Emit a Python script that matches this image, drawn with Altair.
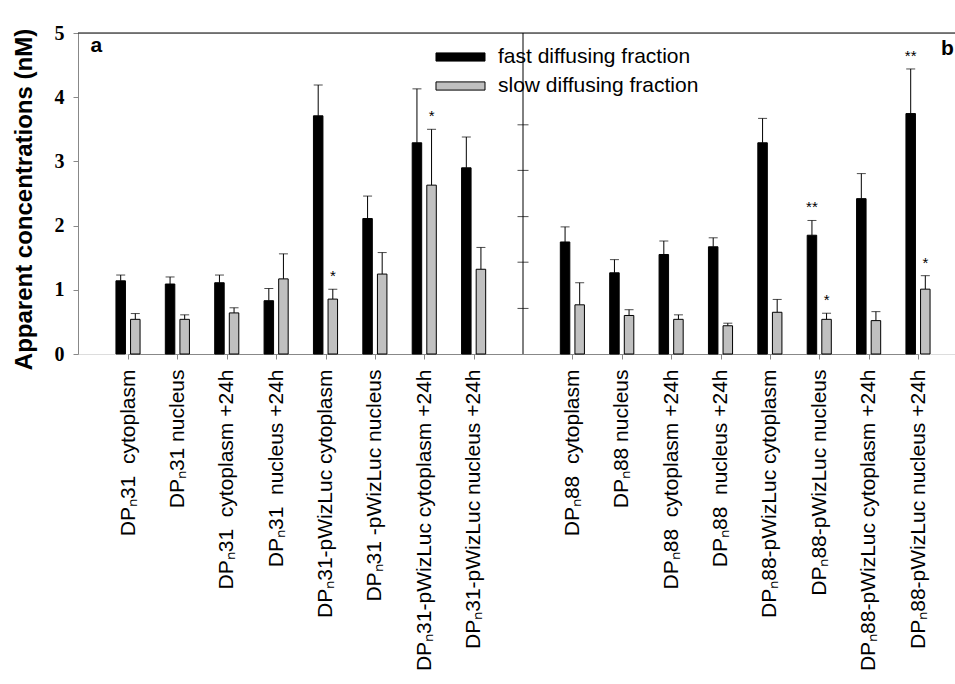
import altair as alt
import pandas as pd

NB = "\u00a0"
labels_a = [f"DPₙ31{NB} cytoplasm", "DPₙ31 nucleus", f"DPₙ31{NB} cytoplasm +24h", f"DPₙ31{NB} nucleus +24h",
            "DPₙ31-pWizLuc cytoplasm", "DPₙ31 -pWizLuc nucleus", "DPₙ31-pWizLuc cytoplasm +24h", "DPₙ31-pWizLuc nucleus +24h"]
labels_b = [f"DPₙ88{NB} cytoplasm", "DPₙ88 nucleus", f"DPₙ88{NB} cytoplasm +24h", f"DPₙ88{NB} nucleus +24h",
            "DPₙ88-pWizLuc cytoplasm", "DPₙ88-pWizLuc nucleus", "DPₙ88-pWizLuc cytoplasm +24h", "DPₙ88-pWizLuc nucleus +24h"]
gap = " "
series_names = ["fast diffusing fraction", "slow diffusing fraction"]

fast_a = [1.14, 1.09, 1.11, 0.83, 3.71, 2.11, 3.29, 2.90]
fast_a_err = [1.23, 1.20, 1.23, 1.02, 4.19, 2.46, 4.13, 3.38]
slow_a = [0.54, 0.54, 0.64, 1.17, 0.855, 1.245, 2.63, 1.32]
slow_a_err = [0.63, 0.61, 0.72, 1.56, 1.01, 1.58, 3.50, 1.66]
fast_b = [1.745, 1.265, 1.55, 1.67, 3.29, 1.85, 2.42, 3.745]
fast_b_err = [1.98, 1.47, 1.76, 1.81, 3.67, 2.08, 2.81, 4.44]
slow_b = [0.766, 0.60, 0.54, 0.44, 0.65, 0.54, 0.52, 1.01]
slow_b_err = [1.11, 0.69, 0.61, 0.48, 0.85, 0.635, 0.66, 1.22]
fast_a_sig = ["", "", "", "", "", "", "", ""]
slow_a_sig = ["", "", "", "", "*", "", "*", ""]
fast_b_sig = ["", "", "", "", "", "**", "", "**"]
slow_b_sig = ["", "", "", "", "", "*", "", "*"]
y_ticks = [0, 1, 2, 3, 4, 5]
panel_b_ticks = [0.71, 1.43, 2.14, 2.86, 3.57]
panel_names = ["a", "b"]

rows = []
for labs, f, fe, s, se, fs, ss in [
    (labels_a, fast_a, fast_a_err, slow_a, slow_a_err, fast_a_sig, slow_a_sig),
    (labels_b, fast_b, fast_b_err, slow_b, slow_b_err, fast_b_sig, slow_b_sig),
]:
    for i, lab in enumerate(labs):
        rows.append(dict(label=lab, series=series_names[0], value=f[i], err=fe[i], sig=fs[i]))
        rows.append(dict(label=lab, series=series_names[1], value=s[i], err=se[i], sig=ss[i]))
df = pd.DataFrame(rows)

x_domain = labels_a + [gap] + labels_b
xscale = alt.Scale(type="point", domain=x_domain, range=[50, 840], padding=0)
yscale = alt.Scale(domain=[0, 5], nice=False, zero=True)

x_enc = alt.X("label:N", scale=xscale, sort=x_domain,
              axis=alt.Axis(values=labels_a + labels_b, labelAngle=270, labelAlign="right",
                            labelBaseline="middle", labelLimit=0, labelOverlap=False,
                            labelFont="Liberation Sans", labelFontSize=21, labelPadding=10,
                            tickSize=5, title=None, grid=False))
y_enc = alt.Y("value:Q", scale=yscale,
              axis=alt.Axis(values=y_ticks, format="d", labelFont="Liberation Serif", labelFontWeight="bold",
                            labelFontSize=20, labelPadding=9, tickSize=5, grid=False,
                            title="Apparent concentrations (nM)", titleFont="Liberation Sans",
                            titleFontWeight="bold", titleFontSize=24, titleAngle=270,
                            titleX=-54, titleY=166, titleAlign="center", titleBaseline="middle"))

color = alt.Color("series:N", scale=alt.Scale(domain=series_names, range=["#000000", "#c0c0c0"]),
                  legend=alt.Legend(title=None, orient="none", legendX=372, legendY=13.5, padding=0,
                                    symbolType="M-3,-0.5H3V0.5H-3Z", symbolSize=267,
                                    symbolStrokeColor="black", symbolStrokeWidth=1, symbolOpacity=1,
                                    labelFont="Liberation Sans", labelFontSize=21, labelColor="black",
                                    labelLimit=0, labelOffset=27, rowPadding=7))

base = alt.Chart(df)
layers = []
for name, off in zip(series_names, [-7.3, 7.3]):
    sub = base.transform_filter(alt.datum.series == name)
    layers.append(sub.mark_rule(xOffset=off, color="black", strokeWidth=1).encode(
        x=x_enc, y=alt.Y("value:Q", scale=yscale), y2="err:Q"))
    layers.append(sub.mark_tick(xOffset=off, color="black", size=9, thickness=1, orient="horizontal").encode(
        x=x_enc, y=alt.Y("err:Q", scale=yscale)))
    layers.append(sub.mark_bar(width=9.5, xOffset=off, stroke="black", strokeWidth=1, opacity=1).encode(
        x=x_enc, y=y_enc, color=color))
    layers.append(sub.transform_filter(alt.datum.sig != "").mark_text(
        xOffset=off, dy=-8, baseline="alphabetic", align="center", fontSize=15,
        font="Liberation Sans", color="black").encode(
        x=x_enc, y=alt.Y("err:Q", scale=yscale), text="sig:N"))

divider = alt.Chart(pd.DataFrame({"label": [gap]})).mark_rule(color="black", strokeWidth=1).encode(
    x=alt.X("label:N", scale=xscale))
div_ticks = alt.Chart(pd.DataFrame({"label": [gap] * len(panel_b_ticks), "v": panel_b_ticks})).mark_tick(
    color="black", size=11, thickness=1, orient="horizontal").encode(
    x=alt.X("label:N", scale=xscale), y=alt.Y("v:Q", scale=yscale))
top = alt.Chart(pd.DataFrame({"v": [max(y_ticks)]})).mark_rule(color="black", strokeWidth=1).encode(
    y=alt.Y("v:Q", scale=yscale))
lab_a = alt.Chart(pd.DataFrame({"t": [panel_names[0]]})).mark_text(
    align="left", baseline="alphabetic", fontSize=21, fontWeight="bold", font="Liberation Sans",
    color="black").encode(x=alt.value(12.5), y=alt.value(19), text="t:N")
lab_b = alt.Chart(pd.DataFrame({"t": [panel_names[1]]})).mark_text(
    align="left", baseline="alphabetic", fontSize=21, fontWeight="bold", font="Liberation Sans",
    color="black").encode(x=alt.value(863), y=alt.value(22), text="t:N")

chart = alt.layer(divider, div_ticks, top, *layers, lab_a, lab_b).properties(
    width=877, height=321,
    autosize=alt.AutoSizeParams(type="none"),
    padding={"left": 78, "top": 33, "right": 0, "bottom": 330},
).configure_view(stroke=None).configure_axis(
    domainColor="black", tickColor="black", labelColor="black", titleColor="black", domainWidth=1, tickWidth=1
).configure(background="white")

chart.save("out.html", embed_options={"renderer": "svg", "actions": False})
